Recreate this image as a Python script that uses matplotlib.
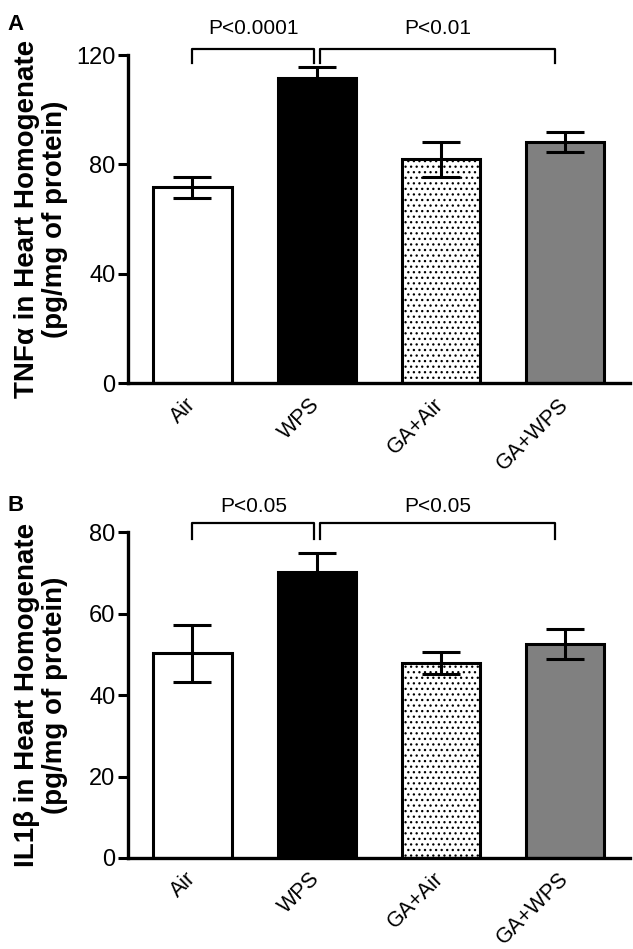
import numpy as np
import matplotlib
matplotlib.use("Agg")
import matplotlib.pyplot as plt

plt.rcParams['font.family'] = ['Liberation Sans', 'DejaVu Sans']
plt.rcParams['hatch.linewidth'] = 0.9

# data
groups = ['Air', 'WPS', 'GA+Air', 'GA+WPS']
tnf_mean = [71.7, 111.6, 82.0, 88.2]
tnf_sem = [3.8, 4.0, 6.4, 3.5]
il1_mean = [50.3, 70.2, 47.8, 52.6]
il1_sem = [7.0, 4.7, 2.7, 3.7]

# significance brackets: (x start, x end, label)
tnf_sig = [(0, 0.98, 'P<0.0001'), (1.03, 2.92, 'P<0.01')]
il1_sig = [(0, 0.98, 'P<0.05'), (1.03, 2.92, 'P<0.05')]

face = ['white', 'black', 'white', '#808080']
hatch = [None, None, '...', None]

fig = plt.figure(figsize=(6.33, 9.49), dpi=100)
ax1 = fig.add_axes([0.202, 0.596, 0.793, 0.346])
ax2 = fig.add_axes([0.202, 0.096, 0.793, 0.343])


def draw(ax, mean, sem, ymax, yticks, ylabel, sig, br_top, br_leg, txt_y):
    x = np.arange(len(groups))
    ax.bar(x, mean, width=0.63, color=face, edgecolor='black', linewidth=2.2,
           hatch=hatch, zorder=2)
    ax.errorbar(x, mean, yerr=sem, fmt='none', ecolor='black', elinewidth=2.2,
                capsize=14, capthick=2.2, zorder=3)
    ax.set_xlim(-0.52, 3.52)
    ax.set_ylim(0, ymax)
    ax.set_yticks(yticks)
    ax.set_xticks(x)
    ax.set_xticklabels(groups, rotation=45, ha='right', va='center',
                       rotation_mode='anchor', fontsize=15.5)
    ax.tick_params(axis='x', length=0, pad=13)
    ax.tick_params(axis='y', length=7, width=2.2, labelsize=17, pad=2)
    for s in ['top', 'right']:
        ax.spines[s].set_visible(False)
    for s in ['left', 'bottom']:
        ax.spines[s].set_linewidth(2.4)
    ax.set_ylabel(ylabel, fontsize=20, fontweight='bold', linespacing=1.1)
    ax.yaxis.set_label_coords(-0.12, 0.5)
    for x0, x1, lab in sig:
        ax.plot([x0, x0, x1, x1], [br_leg, br_top, br_top, br_leg],
                color='black', lw=1.6, clip_on=False)
        ax.text((x0 + x1) / 2, txt_y, lab, ha='center', va='bottom',
                fontsize=15)


draw(ax1, tnf_mean, tnf_sem, 120, [0, 40, 80, 120],
     'TNF\u03b1 in Heart Homogenate\n(pg/mg of protein)',
     tnf_sig, 122.2, 117.0, 126.3)
draw(ax2, il1_mean, il1_sem, 80, [0, 20, 40, 60, 80],
     'IL1\u03b2 in Heart Homogenate\n(pg/mg of protein)',
     il1_sig, 82.2, 78.3, 84.0)

fig.text(0.012, 0.985, 'A', fontsize=16, fontweight='bold', va='top')
fig.text(0.012, 0.478, 'B', fontsize=16, fontweight='bold', va='top')

fig.savefig('out.png', dpi=100)
